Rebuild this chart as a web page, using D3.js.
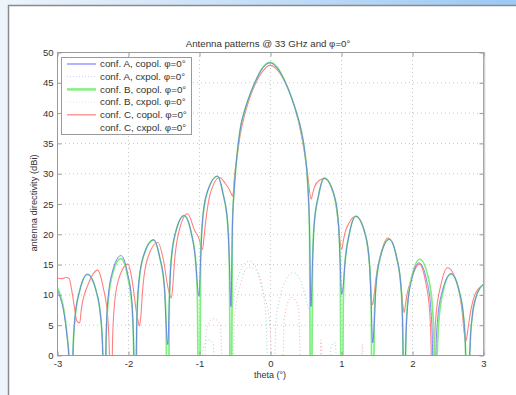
<!DOCTYPE html>
<html>
<head>
<meta charset="utf-8">
<script src="https://cdn.jsdelivr.net/npm/d3@7"></script>
<style>
  body { margin: 0; background: #fff; }
  svg { display: block; font-family: "Liberation Sans", Arial, sans-serif; }
</style>
</head>
<body>
<svg id="chart" width="516" height="395"></svg>
<script>
// theta (deg) vs directivity (dBi)
const copolA = [
  [-3.00, 10.8], [-2.95, 9.3], [-2.90, 6.8], [-2.86, 3.2], [-2.83, -1], [-2.80, -30],
  [-2.777, -0.7], [-2.753, 5.3], [-2.683, 10.5], [-2.57, 13.3], [-2.447, 10.5], [-2.377, 5.3], [-2.353, -0.7], [-2.33, -30],
  [-2.309, 2.4], [-2.287, 8.4], [-2.223, 13.6], [-2.10, 16.4], [-2.008, 13.6], [-1.943, 8.4], [-1.922, 2.4], [-1.90, -10],
  [-1.877, 5.0], [-1.854, 11.0], [-1.785, 16.2], [-1.64, 19.0], [-1.555, 16.2], [-1.486, 11.0], [-1.463, 5.0], [-1.44, 1.7],
  [-1.418, 9.0], [-1.396, 15.0], [-1.33, 20.2], [-1.21, 23.0], [-1.11, 20.2], [-1.044, 15.0], [-1.022, 11.5], [-1.00, 9.7],
  [-0.978, 15.5], [-0.955, 21.5], [-0.888, 26.7], [-0.74, 29.5], [-0.663, 26.7], [-0.595, 21.5], [-0.573, 15.5], [-0.55, 8],
  [-0.53, 21], [-0.50, 28], [-0.46, 33.5], [-0.42, 37.2], [-0.35, 40.6], [-0.29, 42.7], [-0.20, 45.3], [-0.10, 47.4],
  [0, 48.2], [0.10, 47.4], [0.20, 45.4], [0.296, 42.7], [0.37, 40.1], [0.44, 37.0], [0.49, 33.5], [0.53, 28.5], [0.556, 21], [0.577, 8],
  [0.599, 15.2], [0.62, 21.2], [0.685, 26.4], [0.765, 29.2], [0.902, 26.4], [0.967, 21.2], [0.988, 15.2], [1.01, 10],
  [1.032, 11.5], [1.054, 14.9], [1.119, 20.1], [1.21, 22.9], [1.337, 20.1], [1.402, 14.9], [1.424, 8.9], [1.446, 2],
  [1.468, 5.1], [1.49, 11.1], [1.557, 16.3], [1.68, 19.1], [1.779, 16.3], [1.846, 11.1], [1.868, 5.1], [1.89, -10],
  [1.911, 1.2], [1.932, 7.2], [1.995, 12.4], [2.10, 15.2], [2.205, 12.4], [2.268, 7.2], [2.289, 1.2], [2.31, -30],
  [2.334, -0.6], [2.357, 5.4], [2.428, 10.6], [2.55, 13.4], [2.663, 10.6], [2.733, 5.4], [2.757, -0.6], [2.78, -30],
  [2.80, -6], [2.82, 2], [2.85, 6.5], [2.90, 9.5], [2.95, 10.9], [3.00, 11.6]
];
const copolB = [
  [-3.00, 11.3], [-2.95, 9.8], [-2.90, 7.2], [-2.86, 3.5], [-2.83, -1], [-2.80, -30],
  [-2.777, -0.7], [-2.753, 5.3], [-2.683, 10.5], [-2.57, 13.3], [-2.447, 10.5], [-2.377, 5.3], [-2.353, -0.7], [-2.33, -30],
  [-2.309, 1.9], [-2.287, 7.9], [-2.223, 13.1], [-2.10, 15.9], [-2.008, 13.1], [-1.943, 7.9], [-1.922, 1.9], [-1.90, -30],
  [-1.877, 5.0], [-1.854, 11.0], [-1.785, 16.2], [-1.64, 19.0], [-1.555, 16.2], [-1.486, 11.0], [-1.463, 5.0], [-1.44, -30],
  [-1.418, 9.0], [-1.396, 15.0], [-1.33, 20.2], [-1.21, 23.0], [-1.11, 20.2], [-1.044, 15.0], [-1.022, 9.0], [-1.00, -30],
  [-0.978, 15.5], [-0.955, 21.5], [-0.888, 26.7], [-0.74, 29.5], [-0.663, 26.7], [-0.595, 21.5], [-0.573, 15.5], [-0.55, -30],
  [-0.53, 21], [-0.50, 28], [-0.46, 33.5], [-0.42, 37.2], [-0.35, 40.6], [-0.29, 42.7], [-0.20, 45.3], [-0.10, 47.5],
  [0, 48.3], [0.10, 47.5], [0.20, 45.4], [0.296, 42.7], [0.37, 40.1], [0.44, 37.0], [0.49, 33.5], [0.53, 28.5], [0.556, 21], [0.577, -30],
  [0.599, 15.2], [0.62, 21.2], [0.685, 26.4], [0.765, 29.2], [0.902, 26.4], [0.967, 21.2], [0.988, 15.2], [1.01, -30],
  [1.032, 8.9], [1.054, 14.9], [1.119, 20.1], [1.21, 22.9], [1.337, 20.1], [1.402, 14.9], [1.424, 8.9], [1.446, -30],
  [1.468, 5.1], [1.49, 11.1], [1.557, 16.3], [1.68, 19.1], [1.779, 16.3], [1.846, 11.1], [1.868, 5.1], [1.89, -30],
  [1.911, 1.8], [1.933, 7.8], [1.998, 13.0], [2.11, 15.8], [2.225, 13.0], [2.289, 7.8], [2.311, 1.8], [2.33, -30],
  [2.354, -0.6], [2.377, 5.4], [2.44, 10.6], [2.55, 13.4], [2.663, 10.6], [2.733, 5.4], [2.757, -0.6], [2.78, -30],
  [2.80, -6], [2.82, 2], [2.85, 6.5], [2.90, 9.5], [2.95, 10.9], [3.00, 11.6]
];
const copolC = [
  [-3.00, 12.7], [-2.93, 12.6], [-2.87, 12.8], [-2.83, 12.6], [-2.79, 10.5], [-2.75, 7.5], [-2.72, 5.6], [-2.68, 5.3],
  [-2.658, 7.5], [-2.636, 9.0], [-2.57, 11.4], [-2.43, 14.0], [-2.35, 11.2], [-2.284, 6.0], [-2.262, 0], [-2.24, -30],
  [-2.22, 1.0], [-2.20, 7.0], [-2.14, 12.2], [-2.00, 15.0], [-1.94, 12.2], [-1.88, 7.0], [-1.86, 5.8], [-1.84, 4.8],
  [-1.818, 6.5], [-1.795, 10.6], [-1.728, 15.8], [-1.58, 18.6], [-1.503, 15.8], [-1.435, 11.0], [-1.413, 10.0], [-1.39, 9.4],
  [-1.368, 11.5], [-1.346, 15.3], [-1.28, 20.5], [-1.16, 23.3], [-1.06, 20.5], [-0.994, 19.0], [-0.972, 17.9], [-0.95, 17.4],
  [-0.929, 19.5], [-0.908, 21.8], [-0.844, 26.5], [-0.71, 29.3], [-0.63, 28.3], [-0.568, 27.2], [-0.546, 26.6], [-0.525, 26.2],
  [-0.50, 29.5], [-0.46, 33.0], [-0.42, 36.3], [-0.36, 39.5], [-0.30, 41.9], [-0.20, 44.9], [-0.10, 46.9],
  [0, 47.8], [0.10, 47.1], [0.20, 45.3], [0.30, 42.6], [0.40, 38.6], [0.47, 34.5], [0.53, 29.8], [0.58, 25.7],
  [0.60, 26.6], [0.63, 27.8], [0.69, 28.8], [0.765, 29.1], [0.903, 26.3], [0.967, 21.1], [0.989, 18.5], [1.01, 17.4],
  [1.035, 19.0], [1.06, 20.3], [1.119, 21.9], [1.20, 22.9], [1.337, 20.1], [1.402, 14.9], [1.424, 10.0], [1.446, 8.3],
  [1.468, 10.0], [1.49, 12.5], [1.557, 16.5], [1.66, 19.3], [1.779, 16.5], [1.846, 11.3], [1.868, 8.5], [1.89, 7.0],
  [1.91, 8.5], [1.93, 10.0], [1.99, 12.5], [2.10, 15.0], [2.19, 12.2], [2.25, 7.0], [2.27, 1.0], [2.29, -30],
  [2.314, 0.4], [2.337, 6.4], [2.408, 11.6], [2.50, 14.4], [2.64, 11.6], [2.713, 6.4], [2.737, 3.5], [2.76, 2.3],
  [2.79, 4.5], [2.83, 7.5], [2.88, 9.8], [2.94, 11.0], [3.00, 11.6]
];
const cxpolA = [
  [-0.99, -30], [-0.95, 0.5], [-0.88, 2.5], [-0.80, 2.0], [-0.75, -30],
  [-0.58, -30], [-0.55, 4], [-0.52, 8.5], [-0.47, 11.8], [-0.40, 14.3], [-0.29, 15.5], [-0.18, 14.0], [-0.10, 10.5], [-0.05, 5], [-0.01, -30],
  [0.04, -30], [0.08, 5], [0.14, 9.5], [0.22, 12.3], [0.33, 13.6], [0.44, 12.0], [0.52, 8.5], [0.58, 5.9], [0.62, -30],
  [0.80, -30], [0.86, 1.5], [0.92, 2.0], [0.97, -30]
];
const cxpolC = [
  [-0.95, -30], [-0.90, 4.0], [-0.80, 6.0], [-0.70, 5.0], [-0.62, -30],
  [-0.55, -30], [-0.50, 6.0], [-0.42, 11.5], [-0.30, 14.5], [-0.20, 14.0], [-0.10, 10.5], [0.00, 5.0], [0.08, -30],
  [0.14, -30], [0.20, 6.0], [0.30, 9.5], [0.40, 8.0], [0.48, -30],
  [0.66, -30], [0.72, 2.5], [0.78, -30],
  [1.24, -30], [1.30, 1.8], [1.36, -30]
];

const thetaTicks = [-3, -2, -1, 0, 1, 2, 3];
const dbTicks = [0, 5, 10, 15, 20, 25, 30, 35, 40, 45, 50];

const legendItems = [
  {label: 'conf. A, copol. \u03c6=0\u00b0', color: '#8080ff', width: 1.2, dash: null},
  {label: 'conf. A, cxpol. \u03c6=0\u00b0', color: '#c8ccf8', width: 1, dash: '1,2'},
  {label: 'conf. B, copol. \u03c6=0\u00b0', color: '#88f088', width: 2.6, dash: null},
  {label: 'conf. B, cxpol. \u03c6=0\u00b0', color: '#d0f5d0', width: 1, dash: '1,2'},
  {label: 'conf. C, copol. \u03c6=0\u00b0', color: '#ff8080', width: 1.2, dash: null},
  {label: 'conf. C, cxpol. \u03c6=0\u00b0', color: '#ffffff', width: 1, dash: '1,2'}
];

const svg = d3.select('#chart');
const mLeft = 57, mRight = 483, mTop = 52, mBottom = 355;

// window background
const grad = svg.append('defs').append('linearGradient').attr('id', 'topbar');
grad.append('stop').attr('offset', '0%').attr('stop-color', '#eef4fb');
grad.append('stop').attr('offset', '100%').attr('stop-color', '#9cc8f3');
svg.append('rect').attr('width', 516).attr('height', 395).attr('fill', '#fff');
svg.append('rect').attr('width', 516).attr('height', 5).attr('fill', 'url(#topbar)');
svg.append('rect').attr('width', 8).attr('height', 395).attr('fill', '#eef4fb');
svg.append('line').attr('x1', 8.5).attr('x2', 8.5).attr('y1', 5).attr('y2', 395)
  .attr('stroke', '#8a8a8a').attr('stroke-width', 1.5);
svg.append('line').attr('x1', 8).attr('x2', 516).attr('y1', 5.5).attr('y2', 5.5)
  .attr('stroke', '#8a8a8a').attr('stroke-width', 1.5);

const x = d3.scaleLinear().domain([-3, 3]).range([mLeft, mRight]);
const y = d3.scaleLinear().domain([0, 50]).range([mBottom, mTop]);

svg.append('clipPath').attr('id', 'plotArea')
  .append('rect').attr('x', mLeft).attr('y', mTop).attr('width', mRight - mLeft).attr('height', mBottom - mTop);

// grid
const grid = svg.append('g').attr('stroke', '#c8c8c8').attr('stroke-dasharray', '1,3').attr('stroke-width', 1);
grid.selectAll('.gx').data(thetaTicks.slice(1, -1)).enter().append('line')
  .attr('x1', d => x(d) + 0.5).attr('x2', d => x(d) + 0.5).attr('y1', mTop).attr('y2', mBottom);
grid.selectAll('.gy').data(dbTicks.slice(1, -1)).enter().append('line')
  .attr('x1', mLeft).attr('x2', mRight).attr('y1', d => y(d) + 0.5).attr('y2', d => y(d) + 0.5);

// curves
const line = d3.line().x(d => x(d[0])).y(d => y(d[1])).curve(d3.curveMonotoneX);
const curves = svg.append('g').attr('clip-path', 'url(#plotArea)').attr('fill', 'none');
curves.append('path').datum(cxpolC).attr('d', line)
  .attr('stroke', '#f7b0b0').attr('stroke-width', 1).attr('stroke-dasharray', '1,2.5');
curves.append('path').datum(cxpolA).attr('d', line)
  .attr('stroke', '#98d4e8').attr('stroke-width', 1).attr('stroke-dasharray', '1,2.5');
curves.append('path').datum(copolC).attr('d', line)
  .attr('stroke', '#ff8080').attr('stroke-width', 1.1);
curves.append('path').datum(copolB).attr('d', line)
  .attr('stroke', '#80ee80').attr('stroke-width', 1.7);
curves.append('path').datum(copolA).attr('d', line)
  .attr('stroke', '#6672f0').attr('stroke-width', 1).attr('stroke-opacity', 0.85);

// axes box
svg.append('rect').attr('x', mLeft + 0.5).attr('y', mTop + 0.5)
  .attr('width', mRight - mLeft).attr('height', mBottom - mTop)
  .attr('fill', 'none').attr('stroke', '#9a9a9a');
svg.append('line').attr('x1', mRight + 1.5).attr('x2', mRight + 1.5).attr('y1', mTop).attr('y2', mBottom + 1)
  .attr('stroke', '#d0d0d0').attr('stroke-width', 1.5);

// axes with inward ticks
const fmt = d => String(d);
const xAxis = svg.append('g').attr('transform', `translate(0.5,${mBottom + 0.5})`)
  .call(d3.axisBottom(x).tickValues(thetaTicks).tickFormat(fmt).tickSizeInner(-4).tickSizeOuter(0).tickPadding(5));
const xTop = svg.append('g').attr('transform', `translate(0.5,${mTop + 0.5})`)
  .call(d3.axisTop(x).tickValues(thetaTicks).tickSizeInner(-4).tickSizeOuter(0).tickFormat(''));
const yAxis = svg.append('g').attr('transform', `translate(${mLeft + 0.5},0.5)`)
  .call(d3.axisLeft(y).tickValues(dbTicks).tickFormat(fmt).tickSizeInner(-4).tickSizeOuter(0).tickPadding(4));
const yRight = svg.append('g').attr('transform', `translate(${mRight + 0.5},0.5)`)
  .call(d3.axisRight(y).tickValues(dbTicks).tickSizeInner(-4).tickSizeOuter(0).tickFormat(''));
[xAxis, xTop, yAxis, yRight].forEach(g => {
  g.select('.domain').remove();
  g.selectAll('line').attr('stroke', '#9a9a9a');
  g.selectAll('text').attr('fill', '#333').attr('font-size', 9.5).attr('font-family', 'Liberation Sans, Arial, sans-serif');
});

// titles
svg.append('text').attr('x', 268).attr('y', 47).attr('text-anchor', 'middle')
  .attr('font-size', 9.7).attr('fill', '#333').text('Antenna patterns @ 33 GHz and \u03c6=0\u00b0');
svg.append('text').attr('x', 270).attr('y', 378).attr('text-anchor', 'middle')
  .attr('font-size', 9).attr('fill', '#333').text('theta (\u00b0)');
svg.append('text').attr('transform', 'translate(37,203) rotate(-90)').attr('text-anchor', 'middle')
  .attr('font-size', 9.3).attr('fill', '#333').text('antenna directivity (dBi)');

// legend
const legend = svg.append('g');
legend.append('rect').attr('x', 61.5).attr('y', 57.5).attr('width', 130).attr('height', 77)
  .attr('fill', '#fff').attr('stroke', '#9a9a9a');
const rows = legend.selectAll('.row').data(legendItems).enter().append('g')
  .attr('transform', (d, i) => `translate(0,${64 + i * 12.7})`);
rows.append('line').attr('x1', 67).attr('x2', 96).attr('y1', 0).attr('y2', 0)
  .attr('stroke', d => d.color).attr('stroke-width', d => d.width)
  .attr('stroke-dasharray', d => d.dash);
rows.append('text').attr('x', 100).attr('y', 3.3).attr('font-size', 9.8).attr('fill', '#333')
  .text(d => d.label);
</script>
</body>
</html>
